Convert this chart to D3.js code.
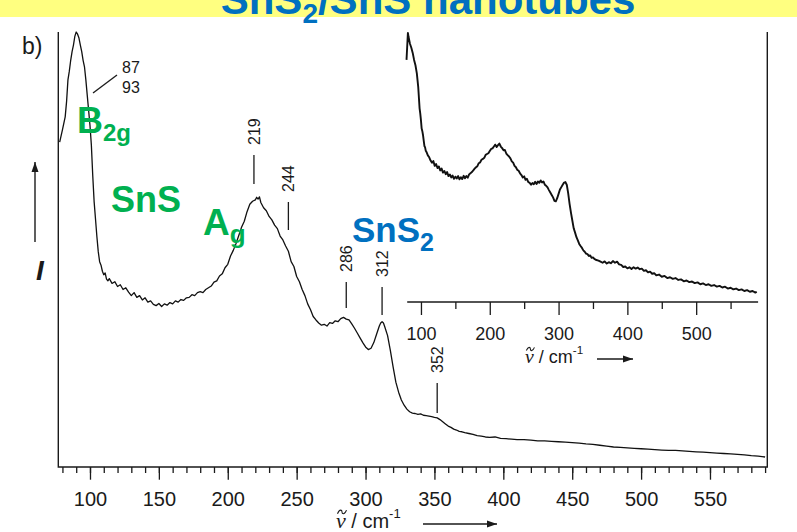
<!DOCTYPE html>
<html>
<head>
<meta charset="utf-8">
<script src="https://cdn.jsdelivr.net/npm/d3@7"></script>
<style>
  html, body { margin: 0; padding: 0; background: #fff; }
  svg { display: block; }
  text { font-family: "Liberation Sans", Arial, sans-serif; }
</style>
</head>
<body>
<svg id="chart" width="797" height="532"></svg>
<script>
// Raman spectrum of SnS2/SnS nanotubes: [wavenumber / cm-1, intensity (a.u.)]
const mainSpectrum = [
  [78,74.7],[80,77.5],[82,80.5],[83,84],[84,89],[85,91],[86,93.5],[87,95.5],[88,97],[89,99],
  [90,100],[91,99.5],[92,98.6],[93,97],[94,95.5],[95,93.5],[96,92],[97,89],[98,85.5],[99,82],
  [100,78.5],[101,74],[102,67],[103,61],[104,57],[105,53],[106,49.5],[107,47.2],[108,46.4],[109,45],
  [110,44.2],[111,44.6],[112,43.2],[113,42.8],[114,43.3],[116,42.2],[118,42.6],[120,41.5],[122,41.9],[124,40.8],
  [126,41.2],[128,40.2],[130,39.4],[132,40.1],[134,39],[136,39.4],[138,38.4],[140,38.9],[142,37.9],[144,38.2],
  [146,37.4],[148,37.1],[150,37.6],[152,36.9],[154,37.5],[156,37.2],[158,37.8],[160,37.5],[162,38.2],[164,37.9],
  [166,38.5],[168,38.3],[170,38.9],[172,39],[174,39.6],[176,39.4],[178,40.1],[180,40.3],[182,40.1],[184,40.8],
  [186,41.2],[188,41.6],[190,42.5],[192,42.8],[194,43.9],[196,44.4],[198,45.8],[200,46.6],[202,48.5],[204,49.8],
  [206,51.4],[208,53.2],[210,55.1],[212,56.5],[214,58.7],[216,60.4],[218,61.1],[220,61.4],[221,62],[222,61.6],
  [223,62.1],[224,60.8],[226,59.6],[228,58.9],[230,57.6],[232,56.8],[234,55.6],[236,54.8],[238,53.1],[240,52.2],
  [242,50.8],[244,49.6],[246,47.2],[248,46.1],[250,43.8],[252,42.6],[254,40.8],[256,39.4],[258,37.5],[260,36.2],
  [262,34.6],[264,33.8],[266,33.1],[268,32.6],[270,32.8],[272,32.4],[274,33.2],[276,33],[278,33.6],[280,33.4],
  [282,34.1],[284,34.4],[286,34],[288,33.8],[290,32.9],[292,31.9],[294,30.8],[296,29.7],[298,28.6],[300,27.6],
  [302,27],[304,27.3],[306,28.6],[308,30.5],[310,32.4],[311,33.1],[312,33.4],[313,33.1],[314,32.2],[316,30.2],
  [318,26.8],[320,23],[322,19.5],[324,17.2],[326,15.4],[328,14.2],[330,13.3],[332,12.7],[334,12.4],[336,12.3],
  [338,12.1],[340,12.2],[342,11.9],[344,11.8],[346,11.7],[348,11.6],[350,11.4],[352,11.3],[354,10.9],[356,10.4],
  [358,9.9],[360,9.4],[362,9.1],[364,8.7],[366,8.5],[368,8.2],[370,8.1],[372,7.9],[375,7.7],[378,7.5],
  [381,7.2],[384,7.1],[387,6.9],[390,6.8],[394,6.9],[398,6.6],[402,6.5],[406,6.4],[410,6.3],[415,6.3],
  [420,6.2],[425,6],[430,6],[435,5.9],[440,5.8],[445,5.7],[450,5.6],[455,5.5],[460,5.3],[465,5.2],
  [470,5],[475,4.8],[480,4.6],[485,4.5],[490,4.4],[495,4.3],[500,4.2],[505,4.1],[510,4],[515,3.9],
  [520,3.8],[525,3.8],[530,3.7],[535,3.6],[540,3.5],[545,3.4],[550,3.3],[555,3.2],[560,3.1],[565,3],
  [570,2.9],[575,2.8],[580,2.6],[585,2.5],[590,2.3]
];

// Expanded view of the same spectrum (inset), own intensity scale
const insetSpectrum = [
  [79,90],[80,95],[81,100],[82,98.5],[84,96],[86,94.5],[88,92.6],[90,90],[92,88],[94,85],
  [96,80],[97,76],[98,72],[99,70],[100,67.5],[101,64.5],[102,63.5],[103,62],[104,60],[105,58],
  [106,57.5],[107,56.2],[108,55.8],[110,54.5],[112,53.8],[114,52.6],[116,51.8],[118,52.4],[120,50.6],[122,51.3],
  [124,49.8],[126,50.4],[128,48.9],[130,49.6],[132,48.1],[134,48.7],[136,47.5],[138,48.3],[140,46.8],[142,47.4],
  [144,46.3],[146,47],[148,45.8],[150,46.6],[152,45.9],[154,46.8],[156,45.6],[158,46.4],[160,45.7],[162,46.9],
  [164,46],[166,46.8],[168,46.2],[170,47.4],[172,47.9],[174,48.3],[176,48.9],[178,49.6],[180,50.1],[182,50.5],
  [184,51.6],[186,51.9],[188,52.9],[190,53.2],[192,53.6],[194,54.7],[196,55],[198,55.3],[200,56.1],[202,56.9],
  [204,57.1],[206,57.8],[208,58.5],[210,57.6],[212,58.3],[214,58.9],[216,57.8],[218,57.2],[220,56.4],[222,56.5],
  [224,55.2],[226,54.6],[228,54.1],[230,53.4],[232,52.3],[234,51.8],[236,50.6],[238,50.1],[240,49.1],[242,48.8],
  [244,47.8],[246,47.2],[248,46.3],[250,46.7],[252,45.4],[254,45.8],[256,44.6],[258,44.3],[260,43.6],[262,44.2],
  [264,43.8],[266,44.7],[268,43.9],[270,44.8],[272,44.3],[274,45.2],[276,44.4],[278,44.8],[280,43.6],[282,43.2],
  [284,42.6],[286,41.6],[288,40.7],[290,39.8],[292,38.9],[294,37.6],[296,37.4],[298,38.6],[300,40.2],[302,41.8],
  [304,42.7],[306,43.6],[308,44.4],[310,44.6],[312,43.5],[314,40.4],[316,36.5],[318,33.2],[320,30.3],[322,27.4],
  [324,25.8],[326,24.1],[328,22.9],[330,21.6],[332,20.8],[334,20.1],[336,19.2],[338,18.7],[340,18],[342,17.8],
  [344,17.1],[346,17.3],[348,16.4],[350,16.6],[352,16],[355,15.6],[358,15.4],[361,15],[364,14.6],[367,15.1],
  [370,14.3],[373,14.8],[376,14.4],[379,15.2],[382,14.6],[385,15],[388,14],[391,13.8],[394,13],[397,13.2],
  [400,12.5],[403,12.9],[406,12.3],[409,12.9],[412,12.4],[415,12.8],[418,12.2],[421,12.4],[424,11.6],[427,11.8],
  [430,11],[433,11.3],[436,10.5],[439,10.7],[442,9.9],[446,10.2],[450,9.4],[454,9.7],[458,8.9],[462,9.2],
  [466,8.6],[470,8.9],[474,8.2],[478,8.4],[482,7.7],[486,8],[490,7.4],[494,7.6],[498,7],[502,7.3],
  [506,6.6],[510,6.9],[514,6.3],[518,6.6],[522,6],[526,6.3],[530,5.7],[534,6],[538,5.4],[542,5.7],
  [546,5],[550,5.3],[554,4.7],[558,5],[562,4.4],[566,4.7],[570,4.1],[574,4.4],[578,3.8],[582,4.1],
  [586,3.5],[588,3.8]
];

const mainMajorTicks = [100,150,200,250,300,350,400,450,500,550];
const mainMinorTicks = d3.range(80, 591, 10);
const insetMajorTicks = [100,200,300,400,500];
const insetMinorTicks = [150,250,350,450,550];
const peakLabels = [219, 244, 286, 312, 352];
const doubletLabels = ["87", "93"];

const svg = d3.select("#chart");
const ink = "#1a1a1a";

svg.append("defs").append("marker")
  .attr("id", "head").attr("viewBox", "0 0 10 10")
  .attr("refX", 10).attr("refY", 5)
  .attr("markerWidth", 10).attr("markerHeight", 10)
  .attr("markerUnits", "userSpaceOnUse").attr("orient", "auto")
  .append("path").attr("d", "M0,1.5 L10,5 L0,8.5 Z").attr("fill", ink);

// Title banner
svg.append("rect").attr("x", 0).attr("y", 0).attr("width", 797).attr("height", 17).attr("fill", "#ffff80");
const title = svg.append("text").attr("x", 428).attr("y", 14)
  .attr("text-anchor", "middle").attr("font-size", 42).attr("font-weight", "bold").attr("fill", "#0070c0");
title.append("tspan").text("SnS");
title.append("tspan").attr("font-size", 28).attr("dy", 9).text("2");
title.append("tspan").attr("dy", -9).text("/SnS nanotubes");

// Scales
const x = d3.scaleLinear().domain([77, 591.6]).range([58.3, 767.3]);
const y = d3.scaleLinear().domain([0, 100]).range([467, 32]);
const xi = d3.scaleLinear().domain([80, 590]).range([407.2, 758.1]);
const yi = d3.scaleLinear().domain([0, 100]).range([302, 33]);

// Main frame: left, bottom and right sides
const frame = svg.append("g").attr("stroke", ink).attr("stroke-width", 1.4).attr("fill", "none");
frame.append("path").attr("d", `M${x.range()[0]},${y.range()[1]} V${y.range()[0]} H${x.range()[1]} V${y.range()[1]}`);

// Main x axis
const gMinor = svg.append("g").attr("transform", `translate(0,${y.range()[0]})`)
  .call(d3.axisBottom(x).tickValues(mainMinorTicks).tickSize(6).tickSizeOuter(0).tickFormat(""));
const gMajor = svg.append("g").attr("transform", `translate(0,${y.range()[0]})`)
  .call(d3.axisBottom(x).tickValues(mainMajorTicks).tickSize(12.7).tickSizeOuter(0).tickPadding(12));
[gMinor, gMajor].forEach(g => {
  g.select(".domain").remove();
  g.selectAll(".tick line").attr("stroke", ink).attr("stroke-width", 1.3);
  g.selectAll(".tick text").attr("fill", ink).attr("font-size", 20)
    .attr("font-family", "'Liberation Sans', Arial, sans-serif");
});

// Axis title: wavenumber with tilde, unit and direction arrow
function waveTitle(x0, base, size, arrowFrom, arrowTo, arrowY) {
  const t = svg.append("text").attr("x", x0).attr("y", base).attr("font-size", size).attr("fill", ink);
  t.append("tspan").attr("font-family", "'Liberation Serif', 'Times New Roman', serif")
    .attr("font-style", "italic").attr("font-size", size * 1.1).text("ν");
  t.append("tspan").text(" / cm");
  t.append("tspan").attr("font-size", size * 0.65).attr("dy", -size * 0.5).text("-1");
  // tilde accent over the nu
  const w = size * 0.45, cx = x0 + size * 0.3, cy = base - size * 0.78, a = size * 0.09;
  svg.append("path")
    .attr("d", `M${cx - w / 2},${cy + a} C${cx - w / 4},${cy - 2 * a} ${cx},${cy - a} ${cx},${cy} S${cx + w / 4},${cy + 2 * a} ${cx + w / 2},${cy - a}`)
    .attr("fill", "none").attr("stroke", ink).attr("stroke-width", 1.1);
  svg.append("line").attr("x1", arrowFrom).attr("x2", arrowTo).attr("y1", arrowY).attr("y2", arrowY)
    .attr("stroke", ink).attr("stroke-width", 1.3).attr("marker-end", "url(#head)");
}
waveTitle(336, 527.5, 20, 423, 497, 524);

// Intensity label on the y side
svg.append("line").attr("x1", 35).attr("x2", 35).attr("y1", 242).attr("y2", 162)
  .attr("stroke", ink).attr("stroke-width", 1.4).attr("marker-end", "url(#head)");
svg.append("text").attr("x", 40).attr("y", 280).attr("text-anchor", "middle")
  .attr("font-size", 28).attr("font-style", "italic").attr("font-weight", "bold").attr("fill", ink).text("I");

// Panel letter
svg.append("text").attr("x", 22).attr("y", 54).attr("font-size", 23)
  .attr("font-family", "'Liberation Serif', 'Times New Roman', serif").attr("fill", ink).text("b)");

// Main spectrum
const line = d3.line().x(d => x(d[0])).y(d => y(d[1]));
svg.append("path").datum(mainSpectrum).attr("d", line)
  .attr("fill", "none").attr("stroke", "#111").attr("stroke-width", 1.3).attr("stroke-linejoin", "round");

// Inset axis
const gi = svg.append("g").attr("transform", `translate(0,${yi.range()[0]})`);
gi.append("line").attr("x1", xi.range()[0]).attr("x2", xi.range()[1]).attr("stroke", ink).attr("stroke-width", 1.4);
const giMinor = gi.append("g").call(d3.axisBottom(xi).tickValues(insetMinorTicks).tickSize(7).tickSizeOuter(0).tickFormat(""));
const giMajor = gi.append("g").call(d3.axisBottom(xi).tickValues(insetMajorTicks).tickSize(13).tickSizeOuter(0).tickPadding(12));
[giMinor, giMajor].forEach(g => {
  g.select(".domain").remove();
  g.selectAll(".tick line").attr("stroke", ink).attr("stroke-width", 1.3);
  g.selectAll(".tick text").attr("fill", ink).attr("font-size", 18)
    .attr("font-family", "'Liberation Sans', Arial, sans-serif");
});
waveTitle(525, 363, 18, 597, 633, 359);

// Inset spectrum
const lineInset = d3.line().x(d => xi(d[0])).y(d => yi(d[1]));
svg.append("path").datum(insetSpectrum).attr("d", lineInset)
  .attr("fill", "none").attr("stroke", "#111").attr("stroke-width", 1.9).attr("stroke-linejoin", "round");

// Peak position markers: leader [top, bottom] in px
const leaders = { 219: [155, 184], 244: [202, 230], 286: [282, 308], 312: [287, 315], 352: [383, 413] };
peakLabels.forEach(p => {
  const px = x(p);
  const [t, b] = leaders[p];
  svg.append("line").attr("x1", px).attr("x2", px).attr("y1", t).attr("y2", b)
    .attr("stroke", ink).attr("stroke-width", 1.3);
  svg.append("text").attr("transform", `translate(${px},${t - 10}) rotate(-90)`)
    .attr("dy", "0.35em").attr("font-size", 16).attr("fill", ink).text(p);
});

// B2g doublet labels
svg.append("line").attr("x1", 93).attr("y1", 93).attr("x2", 117).attr("y2", 75)
  .attr("stroke", ink).attr("stroke-width", 1.3);
doubletLabels.forEach((s, i) => {
  svg.append("text").attr("x", 122).attr("y", 73 + i * 20).attr("font-size", 16).attr("fill", ink).text(s);
});

// Mode and phase assignments
const green = "#00b050", blue = "#0070c0";
function label(xp, yp, main, sub, color, size, subSize, subDy) {
  const t = svg.append("text").attr("x", xp).attr("y", yp).attr("font-size", size)
    .attr("font-weight", "bold").attr("fill", color);
  t.append("tspan").text(main);
  if (sub) t.append("tspan").attr("font-size", subSize).attr("dy", subDy).text(sub);
}
label(77, 133, "B", "2g", green, 36, 24, 8);
label(111, 212, "SnS", null, green, 36);
label(203, 235, "A", "g", green, 37, 26, 8);
label(352, 242, "SnS", "2", blue, 35, 25, 9);
</script>
</body>
</html>
